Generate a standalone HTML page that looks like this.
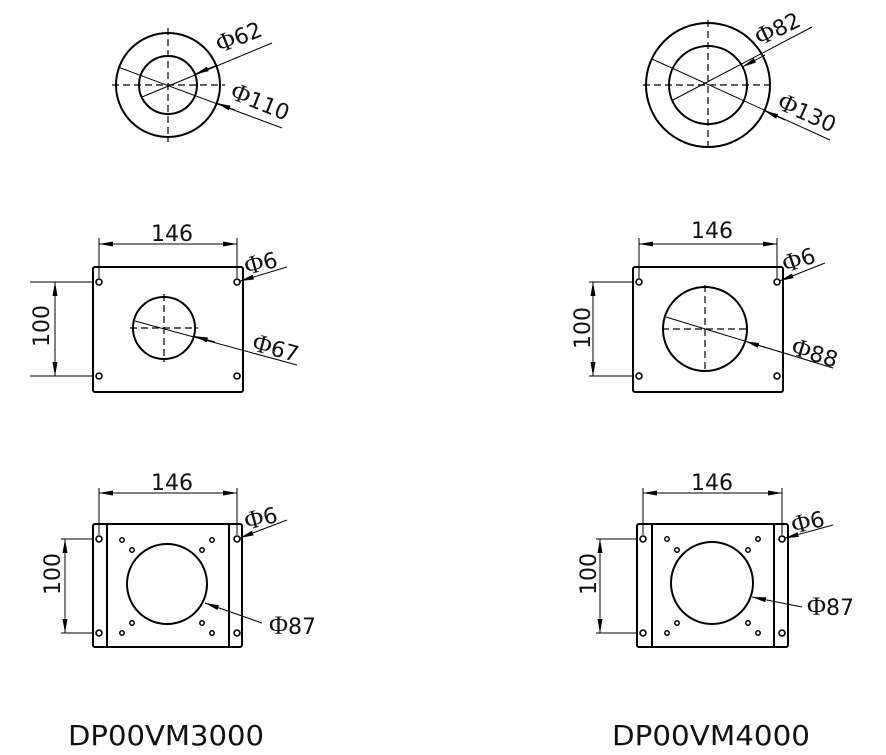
<!DOCTYPE html>
<html><head><meta charset="utf-8"><style>
html,body{margin:0;padding:0;background:#fff;}
svg{display:block;}
text{font-family:"DejaVu Sans","Liberation Sans",sans-serif;fill:#111;}
.p{font-family:"Liberation Serif",serif;font-size:26px;}
</style></head><body>
<svg width="886" height="755" viewBox="0 0 886 755" xmlns="http://www.w3.org/2000/svg">
<defs>
<marker id="ar" viewBox="0 0 14 5" refX="14" refY="2.5" markerWidth="14" markerHeight="5" markerUnits="userSpaceOnUse" orient="auto-start-reverse">
<path d="M0,0 L14,2.5 L0,5 Z" fill="#000"/>
</marker>
</defs>
<g fill="none" stroke="#000">
<circle cx="168" cy="85" r="52" stroke-width="2"/>
<circle cx="168" cy="85" r="29" stroke-width="2"/>
<g stroke-width="1.2" stroke-dasharray="7,4">
<line x1="112" y1="85" x2="225" y2="85"/><line x1="168" y1="28" x2="168" y2="142"/>
</g>
<g stroke-width="1">
<line x1="142" y1="97" x2="272" y2="43"/>
<line x1="118" y1="67" x2="282" y2="128"/>
<line x1="194.9" y1="74.2" x2="215" y2="66" marker-start="url(#ar)"/>
<line x1="216.7" y1="103.1" x2="235" y2="110" marker-start="url(#ar)"/>
</g>
<circle cx="708" cy="85" r="62" stroke-width="2"/>
<circle cx="708" cy="85" r="39" stroke-width="2"/>
<g stroke-width="1.2" stroke-dasharray="7,4">
<line x1="643" y1="85" x2="773" y2="85"/><line x1="708" y1="20" x2="708" y2="150"/>
</g>
<g stroke-width="1">
<line x1="673" y1="100" x2="812" y2="27"/>
<line x1="652" y1="59" x2="830" y2="140"/>
<line x1="742.5" y1="66.9" x2="765" y2="55" marker-start="url(#ar)"/>
<line x1="764.4" y1="110.7" x2="785" y2="120" marker-start="url(#ar)"/>
</g>

<rect x="93" y="267" width="150" height="125" rx="2" stroke-width="2"/>
<g stroke-width="1.6"><circle cx="99" cy="282" r="3"/><circle cx="237" cy="282" r="3"/><circle cx="99" cy="376" r="3"/><circle cx="237" cy="376" r="3"/></g>
<circle cx="164" cy="328" r="31" stroke-width="2"/>
<g stroke-width="1.2" stroke-dasharray="7,4"><line x1="130" y1="328" x2="198" y2="328"/><line x1="164" y1="294" x2="164" y2="362"/></g>
<g stroke-width="1">
<line x1="99" y1="238" x2="99" y2="278"/><line x1="237" y1="238" x2="237" y2="278"/>
<line x1="99" y1="244" x2="237" y2="244" marker-start="url(#ar)" marker-end="url(#ar)"/>
<line x1="30" y1="282" x2="94" y2="282"/><line x1="30" y1="376" x2="94" y2="376"/>
<line x1="55" y1="282" x2="55" y2="376" marker-start="url(#ar)" marker-end="url(#ar)"/>
<line x1="135" y1="321" x2="297" y2="365"/>
<line x1="193.9" y1="336.1" x2="215" y2="342" marker-start="url(#ar)"/>
<line x1="239.9" y1="281.1" x2="287" y2="267" marker-start="url(#ar)"/>
</g>

<rect x="633" y="267" width="150" height="125" rx="2" stroke-width="2"/>
<g stroke-width="1.6"><circle cx="639" cy="282" r="3"/><circle cx="777" cy="282" r="3"/><circle cx="639" cy="376" r="3"/><circle cx="777" cy="376" r="3"/></g>
<circle cx="705" cy="329" r="42" stroke-width="2"/>
<g stroke-width="1.2" stroke-dasharray="7,4"><line x1="662" y1="329" x2="750" y2="329"/><line x1="705" y1="285" x2="705" y2="373"/></g>
<g stroke-width="1">
<line x1="639" y1="238" x2="639" y2="278"/><line x1="777" y1="238" x2="777" y2="278"/>
<line x1="639" y1="244" x2="777" y2="244" marker-start="url(#ar)" marker-end="url(#ar)"/>
<line x1="589" y1="282" x2="634" y2="282"/><line x1="589" y1="376" x2="634" y2="376"/>
<line x1="593" y1="282" x2="593" y2="376" marker-start="url(#ar)" marker-end="url(#ar)"/>
<line x1="666" y1="317" x2="833" y2="368"/>
<line x1="745.2" y1="341.3" x2="767" y2="348" marker-start="url(#ar)"/>
<line x1="779.8" y1="280.9" x2="825" y2="263" marker-start="url(#ar)"/>
</g>

<rect x="93" y="524" width="149" height="123" rx="2" stroke-width="2"/>
<line x1="107" y1="524" x2="107" y2="647" stroke-width="2"/><line x1="229" y1="524" x2="229" y2="647" stroke-width="2"/>
<g stroke-width="1.6"><circle cx="99" cy="539" r="3"/><circle cx="237" cy="539" r="3"/><circle cx="99" cy="633" r="3"/><circle cx="237" cy="633" r="3"/></g>
<g stroke-width="1.5"><circle cx="122" cy="540" r="2.2"/><circle cx="132" cy="550" r="2.2"/><circle cx="212" cy="540" r="2.2"/><circle cx="202" cy="550" r="2.2"/><circle cx="122" cy="633" r="2.2"/><circle cx="132" cy="623" r="2.2"/><circle cx="212" cy="633" r="2.2"/><circle cx="202" cy="623" r="2.2"/></g>
<circle cx="167" cy="584" r="40" stroke-width="2"/>
<g stroke-width="1">
<line x1="99" y1="488" x2="99" y2="535"/><line x1="237" y1="488" x2="237" y2="535"/>
<line x1="99" y1="493" x2="237" y2="493" marker-start="url(#ar)" marker-end="url(#ar)"/>
<line x1="61" y1="539" x2="94" y2="539"/><line x1="61" y1="633" x2="94" y2="633"/>
<line x1="65" y1="539" x2="65" y2="633" marker-start="url(#ar)" marker-end="url(#ar)"/>
<line x1="205" y1="603" x2="262" y2="623" marker-start="url(#ar)"/>
<line x1="239.8" y1="538" x2="287" y2="520" marker-start="url(#ar)"/>
</g>

<rect x="637" y="524" width="151" height="123" rx="2" stroke-width="2"/>
<line x1="652" y1="524" x2="652" y2="647" stroke-width="2"/><line x1="774" y1="524" x2="774" y2="647" stroke-width="2"/>
<g stroke-width="1.6"><circle cx="643" cy="539" r="3"/><circle cx="782" cy="539" r="3"/><circle cx="643" cy="633" r="3"/><circle cx="782" cy="633" r="3"/></g>
<g stroke-width="1.5"><circle cx="667" cy="539" r="2.2"/><circle cx="677" cy="550" r="2.2"/><circle cx="758" cy="539" r="2.2"/><circle cx="748" cy="550" r="2.2"/><circle cx="667" cy="633" r="2.2"/><circle cx="677" cy="623" r="2.2"/><circle cx="758" cy="633" r="2.2"/><circle cx="748" cy="623" r="2.2"/></g>
<circle cx="712" cy="583" r="41" stroke-width="2"/>
<g stroke-width="1">
<line x1="643" y1="488" x2="643" y2="535"/><line x1="782" y1="488" x2="782" y2="535"/>
<line x1="643" y1="493" x2="782" y2="493" marker-start="url(#ar)" marker-end="url(#ar)"/>
<line x1="596" y1="539" x2="638" y2="539"/><line x1="596" y1="633" x2="638" y2="633"/>
<line x1="600" y1="539" x2="600" y2="633" marker-start="url(#ar)" marker-end="url(#ar)"/>
<line x1="752" y1="597" x2="802" y2="607" marker-start="url(#ar)"/>
<line x1="784.8" y1="538.2" x2="833" y2="525" marker-start="url(#ar)"/>
</g>
</g>

<g font-size="22">
<text transform="translate(220,53) rotate(-22)"><tspan class="p">Φ</tspan>62</text>
<text transform="translate(229,98) rotate(22)"><tspan class="p">Φ</tspan>110</text>
<text transform="translate(760,46) rotate(-26)"><tspan class="p">Φ</tspan>82</text>
<text transform="translate(776,108) rotate(24)"><tspan class="p">Φ</tspan>130</text>

<text x="151" y="241">146</text>
<text transform="translate(247,275) rotate(-15)"><tspan class="p">Φ</tspan>6</text>
<text transform="translate(251,350) rotate(15)"><tspan class="p">Φ</tspan>67</text>
<text transform="translate(49,347) rotate(-90)">100</text>

<text x="691" y="238">146</text>
<text transform="translate(786,273) rotate(-20)"><tspan class="p">Φ</tspan>6</text>
<text transform="translate(790,354) rotate(17)"><tspan class="p">Φ</tspan>88</text>
<text transform="translate(590,349) rotate(-90)">100</text>

<text x="151" y="490">146</text>
<text transform="translate(247,530) rotate(-15)"><tspan class="p">Φ</tspan>6</text>
<text x="269" y="634"><tspan class="p">Φ</tspan>87</text>
<text transform="translate(60,595) rotate(-90)">100</text>

<text x="691" y="490">146</text>
<text transform="translate(794,534) rotate(-15)"><tspan class="p">Φ</tspan>6</text>
<text x="807" y="615"><tspan class="p">Φ</tspan>87</text>
<text transform="translate(596,595) rotate(-90)">100</text>
</g>
<text x="68" y="745" font-size="28" textLength="196" lengthAdjust="spacingAndGlyphs">DP00VM3000</text>
<text x="612" y="745" font-size="28" textLength="198" lengthAdjust="spacingAndGlyphs">DP00VM4000</text>
</svg>
</body></html>
